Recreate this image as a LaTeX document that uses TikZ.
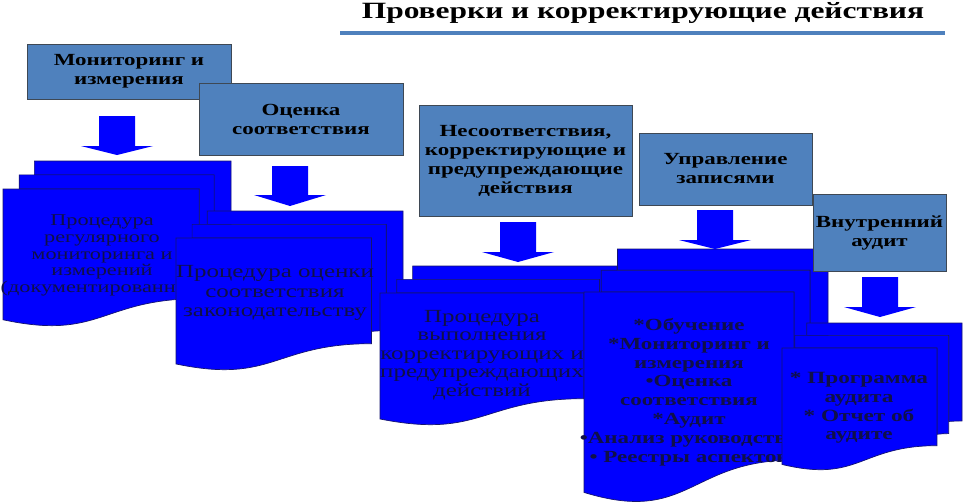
\documentclass[tikz,border=0pt]{standalone}
\usepackage{fontspec}
\setmainfont{Liberation Serif}
\newfontfamily\wideserif[FakeStretch=1.35]{Liberation Serif}
\definecolor{hdr}{HTML}{4F81BD}
\definecolor{hdrline}{HTML}{3E4854}
\definecolor{docblue}{HTML}{0000FF}
\definecolor{docline}{HTML}{141470}
\definecolor{doctxt}{HTML}{101048}
\tikzset{
  docpage/.style={fill=docblue, draw=docline, line width=0.7pt, line join=miter},
  hdrbox/.style={draw=hdrline, fill=hdr, line width=0.8pt, align=center, inner sep=0pt,
     font=\wideserif\bfseries\fontsize{17}{19}\selectfont},
  doctext/.style={text=doctxt, align=center, inner sep=0pt},
  blockarrow/.style={fill=docblue, draw=none}
}
% multidocument shape: x0, y0, width, height (pixels, y downward)
\newcommand{\mdoc}[4]{%
  \begin{scope}[shift={(#1,#2)}, xscale=#3/216, yscale=#4/216]
    \path[docpage] (29.72,18.15) -- (29.72,0) -- (216,0) -- (216,143.92)
       .. controls (208,143.92) and (200,144.67) .. (200,144.67) -- (200,18.15) -- cycle;
    \path[docpage] (15.32,36.75) -- (15.32,18.15) -- (200,18.15) -- (200,162.52)
       .. controls (192.98,162.52) and (185.95,163.52) .. (185.95,163.52) -- (185.95,36.75) -- cycle;
    \path[docpage] (0,207.82) .. controls (92.98,235.42) and (92.98,180.22) .. (185.95,180.22)
       -- (185.95,36.75) -- (0,36.75) -- cycle;
  \end{scope}}
% block arrow: centre x, top y, head y, tip y
\newcommand{\barrow}[4]{%
  \path[blockarrow] (#1-18,#2) -- (#1+18,#2) -- (#1+18,#3) -- (#1+36,#3) -- (#1,#4)
     -- (#1-36,#3) -- (#1-18,#3) -- cycle;}
\begin{document}
\begin{tikzpicture}[x=1pt,y=-1pt]
\useasboundingbox (0,0) rectangle (963,501);
\fill[white] (0,0) rectangle (963,501);

% title
\node[font=\wideserif\bfseries\fontsize{23.3}{26}\selectfont] (title) at (643,13) {Проверки и корректирующие действия};
\coordinate (ulA) at (340,33);
\coordinate (ulB) at (945,33);
\draw[hdr, line width=4pt] (ulA) -- (ulB);

% documents
\mdoc{3}{161}{228}{165}
\node[doctext, font=\wideserif\fontsize{16.5}{16.7}\selectfont] (d1) at (102,255.5)
  {Процедура\\регулярного\\мониторинга и\\измерений\\(документированная)};
\mdoc{176}{211}{227}{159}
\node[doctext, font=\wideserif\fontsize{18.5}{19.5}\selectfont] (d2) at (275,293)
  {Процедура оценки\\соответствия\\законодательству};
\mdoc{380}{266}{237}{159}
\node[doctext, font=\wideserif\fontsize{18.5}{18.5}\selectfont] (d3) at (482,355)
  {Процедура\\выполнения\\корректирующих и\\предупреждающих\\действий};
\mdoc{584}{249}{244}{253}
\node[doctext, font=\wideserif\bfseries\fontsize{17}{18.8}\selectfont] (d4) at (689,392)
  {*Обучение\\*Мониторинг и\\измерения\\•Оценка\\соответствия\\*Аудит\\•Анализ руководства\\• Реестры аспектов};
\mdoc{782}{323}{180}{147}
\node[doctext, font=\wideserif\bfseries\fontsize{17.2}{18.7}\selectfont] (d5) at (859,408)
  {* Программа\\аудита\\* Отчет об\\аудите};

% header boxes
\node[hdrbox, minimum width=204pt, minimum height=55pt] (h1) at (129,71.5) {Мониторинг и\\измерения};
\node[hdrbox, minimum width=204pt, minimum height=72pt] (h2) at (301,119) {Оценка\\соответствия};
\node[hdrbox, minimum width=213pt, minimum height=111pt] (h3) at (525.5,160.5) {Несоответствия,\\корректирующие и\\предупреждающие\\действия};
\node[hdrbox, minimum width=173pt, minimum height=72pt] (h4) at (725.5,169) {Управление\\записями};
\node[hdrbox, minimum width=133pt, minimum height=77pt] (h5) at (879.5,232.5) {Внутренний\\аудит};

% block arrows
\barrow{117}{116}{146}{155}
\barrow{290}{166}{195}{206}
\barrow{518}{222}{252}{262}
\barrow{715}{210}{240}{249}
\barrow{880}{277}{307}{317}
\end{tikzpicture}
\end{document}
